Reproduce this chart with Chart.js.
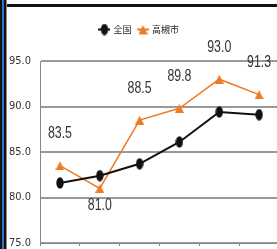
<!DOCTYPE html>
<html>
<head>
<meta charset="utf-8">
<script src="https://cdn.jsdelivr.net/npm/chart.js@4.4.1/dist/chart.umd.min.js"></script>
<style>
  html, body { margin: 0; padding: 0; background: #fff; }
  #wrap { position: relative; width: 277px; height: 249px; overflow: hidden; background: #fff; }
  #chartBox { position: absolute; left: 0; top: 0; width: 285px; height: 249px; }
  .edge-left { position: absolute; left: 0; top: 0; width: 6px; height: 249px; background: #111; }
  .edge-blue { position: absolute; left: 2px; top: 0; width: 2px; height: 249px; background: #2e6fd0; }
  .edge-gray { position: absolute; left: 6px; top: 0; width: 1px; height: 249px; background: #888; }
  .edge-top { position: absolute; left: 0; top: 4px; width: 277px; height: 3px; background: #111; }
</style>
</head>
<body>
<div id="wrap">
  <div id="chartBox"><canvas id="lineChart"></canvas></div>
  <div class="edge-top"></div>
  <div class="edge-left"></div>
  <div class="edge-blue"></div>
  <div class="edge-gray"></div>
</div>
<script>
// chart data
var years = ['H22', 'H23', 'H24', 'H25', 'H26', 'H27'];
var zenkoku = [81.6, 82.4, 83.7, 86.1, 89.4, 89.1];
var takatsuki = [83.5, 81.0, 88.5, 89.8, 93.0, 91.3];
var yTicks = [75, 80, 85, 90, 95];

var BLACK = '#111111';
var ORANGE = '#f07a22';
var NARROW = '"DejaVu Sans Condensed", "Liberation Sans", sans-serif';

// marker images
function ovalMarker(color) {
    var c = document.createElement('canvas');
    c.width = 8; c.height = 12;
    var g = c.getContext('2d');
    g.fillStyle = color;
    g.beginPath();
    g.ellipse(4, 6, 3.7, 5.7, 0, 0, Math.PI * 2);
    g.fill();
    return c;
}

function triMarker(color) {
    var c = document.createElement('canvas');
    c.width = 9; c.height = 9;
    var g = c.getContext('2d');
    g.fillStyle = color;
    g.beginPath();
    g.moveTo(4.5, 0);
    g.lineTo(9, 9);
    g.lineTo(0, 9);
    g.closePath();
    g.fill();
    return c;
}

function legendIcon(color, marker) {
    var c = document.createElement('canvas');
    c.width = 12; c.height = 12;
    var g = c.getContext('2d');
    g.strokeStyle = color;
    g.lineWidth = 2;
    g.beginPath();
    g.moveTo(0, 6);
    g.lineTo(12, 6);
    g.stroke();
    g.drawImage(marker, (12 - marker.width) / 2, (12 - marker.height) / 2);
    return c;
}

var blackMarker = ovalMarker(BLACK);
var orangeMarker = triMarker(ORANGE);

// extra room under the legend
var legendGap = {
    id: 'legendGap',
    beforeInit: function(chart) {
        var fit = chart.legend.fit;
        chart.legend.fit = function() {
            fit.bind(chart.legend)();
            this.height += 17;
        };
    }
};

// value labels over the orange series, drawn tall and narrow
var valueLabels = {
    id: 'valueLabels',
    afterDatasetsDraw: function(chart) {
        var ctx = chart.ctx;
        var meta = chart.getDatasetMeta(1);
        var data = chart.data.datasets[1].data;
        ctx.save();
        ctx.font = '16px "Liberation Sans", sans-serif';
        ctx.fillStyle = '#333';
        ctx.textAlign = 'center';
        ctx.textBaseline = 'middle';
        meta.data.forEach(function(pt, i) {
            var inner = i > 0 && i < data.length - 1;
            var below = inner && data[i] < data[i - 1] && data[i] < data[i + 1];
            var y = below ? pt.y + 17 : pt.y - 32;
            ctx.save();
            ctx.translate(pt.x, y);
            ctx.scale(0.77, 1);
            ctx.fillText(data[i].toFixed(1), 0, 0);
            ctx.restore();
        });
        ctx.restore();
    }
};

var ctx = document.getElementById('lineChart').getContext('2d');
var lineChart = new Chart(ctx, {
    type: 'line',
    data: {
        labels: years,
        datasets: [{
            label: '全国',
            data: zenkoku,
            borderColor: BLACK,
            borderWidth: 2,
            pointStyle: blackMarker,
            tension: 0
        }, {
            label: '高槻市',
            data: takatsuki,
            borderColor: ORANGE,
            borderWidth: 1.5,
            pointStyle: orangeMarker,
            tension: 0
        }]
    },
    options: {
        responsive: true,
        maintainAspectRatio: false,
        animation: false,
        layout: {
            padding: { top: 18, right: 6, bottom: 0, left: 0 }
        },
        plugins: {
            tooltip: { enabled: false },
            legend: {
                display: true,
                position: 'top',
                labels: {
                    usePointStyle: true,
                    padding: 7,
                    color: '#222',
                    font: { family: '"Noto Sans CJK JP"', size: 9 },
                    generateLabels: function(chart) {
                        return chart.data.datasets.map(function(ds, i) {
                            return {
                                text: ds.label,
                                pointStyle: legendIcon(ds.borderColor, i === 0 ? blackMarker : orangeMarker),
                                fontColor: '#222',
                                lineWidth: 0,
                                datasetIndex: i
                            };
                        });
                    }
                }
            }
        },
        scales: {
            x: {
                offset: true,
                afterFit: function(axis) { axis.height = 3; },
                grid: {
                    display: true,
                    offset: true,
                    drawOnChartArea: false,
                    tickLength: 3,
                    color: '#888'
                },
                border: { color: '#888', width: 1 },
                ticks: { display: false }
            },
            y: {
                min: 75,
                max: 95,
                afterBuildTicks: function(axis) {
                    axis.ticks = yTicks.map(function(v) { return { value: v }; });
                },
                // let the plot run to the bottom edge like the original crop
                afterFit: function(axis) {
                    axis.paddingTop = 0;
                    axis.paddingBottom = 0;
                },
                grid: {
                    color: '#999',
                    lineWidth: 2,
                    drawTicks: false
                },
                border: { color: '#888', width: 1 },
                ticks: {
                    padding: 9,
                    color: '#333',
                    font: { family: NARROW, size: 11 },
                    callback: function(v) { return v.toFixed(1); }
                }
            }
        }
    },
    plugins: [legendGap, valueLabels]
});
</script>
</body>
</html>
